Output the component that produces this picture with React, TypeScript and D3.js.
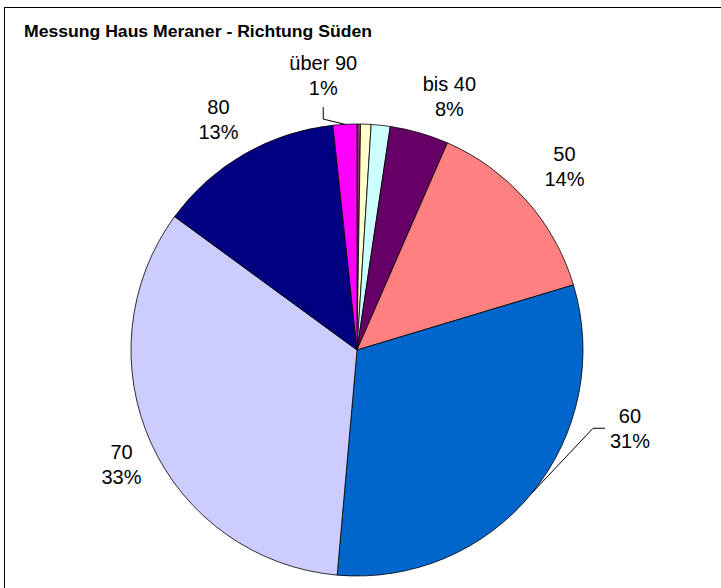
import React from "react";
import * as d3 from "d3";

const categories = ["bis 25", "bis 30", "bis 35", "bis 40", "50", "60", "70", "80", "über 90"];
const values = [0.25, 0.75, 1.35, 4.2, 13.8, 31.05, 33.65, 13.25, 1.7];
const colors = ["#993366", "#FFFFCC", "#CCFFFF", "#660066", "#FF8080", "#0066CC", "#CCCCFF", "#000080", "#FF00FF"];
// Displayed data labels (as printed in the chart); null = no label
const labelNames = [null, null, null, "bis 40", "50", "60", "70", "80", "über 90"];
const labelPercents = [null, null, null, "8%", "14%", "31%", "33%", "13%", "1%"];
// Label placement (angle in degrees clockwise from top, radius), leader flag
const labelAngle = [0, 0, 0, 20, 48.5, 106, 244, 329, 353];
const labelRadius = [0, 0, 0, 270, 277, 284, 262, 269, 277];
const labelLeader = [false, false, false, false, false, true, false, false, true];

const W = 721;
const H = 588;
const cx = 357;
const cy = 350;
const R = 226;

export default function App() {
  const pie = d3.pie<number>().sort(null).value((d) => d).startAngle(0).endAngle(2 * Math.PI);
  const arcs = pie(values);
  const arc = d3.arc<d3.PieArcDatum<number>>().innerRadius(0).outerRadius(R);
  const font = "'Liberation Sans', Arial, sans-serif";
  const pt = (a: number, r: number) => [cx + r * Math.sin(a), cy - r * Math.cos(a)];

  return (
    <svg width={W} height={H} style={{ position: "absolute", left: 0, top: 0, background: "#fff" }}>
      <rect x={4.5} y={7.5} width={W + 20} height={H + 20} fill="#fff" stroke="#000" strokeWidth={1} />
      <text x={24} y={37} fontFamily={font} fontWeight="bold" fontSize={16} fill="#000" textLength={348} lengthAdjust="spacingAndGlyphs">
        Messung Haus Meraner - Richtung Süden
      </text>
      <g transform={`translate(${cx},${cy})`}>
        {arcs.map((a, i) => (
          <path key={categories[i]} d={arc(a) || ""} fill={colors[i]} stroke="#000" strokeWidth={0.8} strokeLinejoin="round" />
        ))}
      </g>
      {arcs.map((a, i) => {
        if (!labelNames[i]) return null;
        const ang = (labelAngle[i] * Math.PI) / 180;
        const [lx, ly] = pt(ang, labelRadius[i]);
        const mid = (a.startAngle + a.endAngle) / 2;
        const [ex, ey] = pt(mid, R);
        let leader = null;
        if (labelLeader[i]) {
          if (lx > cx) {
            const x0 = lx - 25;
            leader = <polyline points={`${x0},${ly} ${x0 - 12},${ly} ${ex},${ey}`} fill="none" stroke="#000" strokeWidth={1} />;
          } else {
            const y0 = ly + 32;
            leader = <polyline points={`${lx},${y0} ${lx},${y0 + 12} ${ex},${ey}`} fill="none" stroke="#000" strokeWidth={1} />;
          }
        }
        return (
          <g key={"l" + i}>
            {leader}
            <text x={lx} y={ly - 12.5} dy="0.35em" textAnchor="middle" fontFamily={font} fontSize={20} fill="#000">
              {labelNames[i]}
            </text>
            <text x={lx} y={ly + 12.5} dy="0.35em" textAnchor="middle" fontFamily={font} fontSize={20} fill="#000">
              {labelPercents[i]}
            </text>
          </g>
        );
      })}
    </svg>
  );
}
